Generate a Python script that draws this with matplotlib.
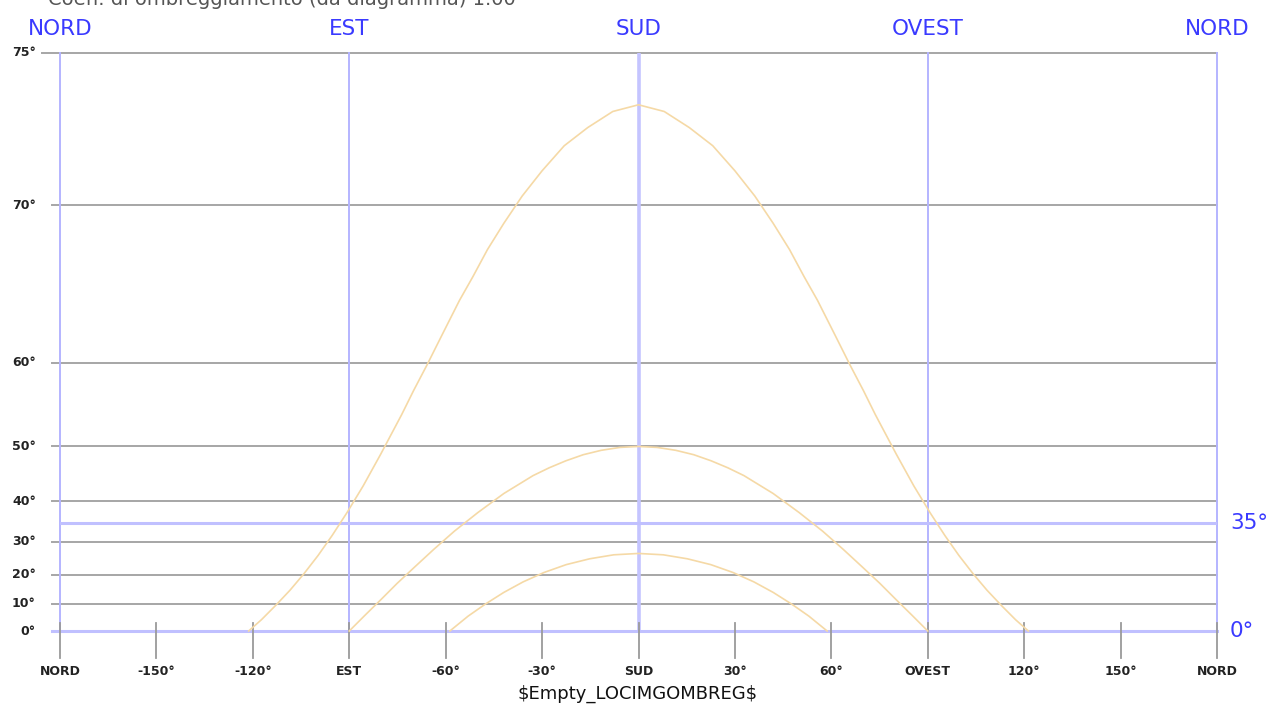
import numpy as np
import matplotlib
matplotlib.use("Agg")
import matplotlib.pyplot as plt

# sun path curves (azimuth from south, altitude in degrees)
summer_az = [-121.3, -117.3, -112.8, -108.4, -104.1, -99.7, -95.3, -90.7, -85.7, -80.2,
             -73.7, -70.0, -65.8, -61.1, -55.7, -51.5, -47.0, -41.9, -36.2, -30.0,
             -23.1, -15.8, -8.0, 0.0, 8.0, 15.8, 23.1, 30.0, 36.2, 41.9,
             47.0, 51.5, 55.7, 61.1, 65.8, 70.0, 73.7, 80.2, 85.7, 90.7,
             95.3, 99.7, 104.1, 108.4, 112.8, 117.3, 121.3]
summer_alt = [0.0, 4.2, 9.5, 14.8, 20.3, 26.0, 31.7, 37.4, 43.1, 48.8,
              54.4, 57.2, 59.8, 62.4, 64.9, 66.4, 67.9, 69.2, 70.4, 71.4,
              72.3, 72.9, 73.4, 73.6, 73.4, 72.9, 72.3, 71.4, 70.4, 69.2,
              67.9, 66.4, 64.9, 62.4, 59.8, 57.2, 54.4, 48.8, 43.1, 37.4,
              31.7, 26.0, 20.3, 14.8, 9.5, 4.2, 0.0]

equinox_az = [-90.0, -85.2, -80.2, -75.1, -69.6, -63.7, -57.3, -50.0, -41.9, -32.8,
              -27.8, -22.6, -17.2, -11.6, -5.8, 0.0, 5.8, 11.6, 17.2, 22.6,
              27.8, 32.8, 41.9, 50.0, 57.3, 63.7, 69.6, 75.1, 80.2, 85.2, 90.0]
equinox_alt = [0.0, 5.7, 11.4, 17.1, 22.5, 27.8, 32.8, 37.4, 41.6, 45.1,
               46.5, 47.7, 48.7, 49.4, 49.85, 50.0, 49.85, 49.4, 48.7, 47.7,
               46.5, 45.1, 41.6, 37.4, 32.8, 27.8, 22.5, 17.1, 11.4, 5.7, 0.0]

winter_az = [-58.7, -53.0, -47.6, -41.9, -35.9, -29.4, -22.5, -15.2, -7.7, 0.0,
             7.7, 15.2, 22.5, 29.4, 35.9, 41.9, 47.6, 53.0, 58.7]
winter_alt = [0.0, 5.5, 9.9, 14.0, 17.6, 20.7, 23.2, 25.0, 26.2, 26.6,
              26.2, 25.0, 23.2, 20.7, 17.6, 14.0, 9.9, 5.5, 0.0]

x_ticks = [-180, -150, -120, -90, -60, -30, 0, 30, 60, 90, 120, 150, 180]
x_labels = ["NORD", "-150°", "-120°", "EST", "-60°", "-30°", "SUD",
            "30°", "60°", "OVEST", "120°", "150°", "NORD"]
cardinal_x = [-180, -90, 0, 90, 180]
cardinal_labels = ["NORD", "EST", "SUD", "OVEST", "NORD"]
y_grid = [10, 20, 30, 40, 50, 60, 70, 75]
y_labels = [0, 10, 20, 30, 40, 50, 60, 70, 75]
limit_alt = 35

BLUE_LINE = "#b4b4ff"
BLUE_TXT = "#3a3aff"
GRAY = "#a6a6a6"
CURVE = "#f5d9a6"

fig = plt.figure(figsize=(12.69, 7.09), dpi=100)
ax = fig.add_axes([60 / 1269, 1 - 660 / 709, 1157 / 1269, 607 / 709])


def fwd(v):
    return np.tan(np.radians(v))


def inv(t):
    return np.degrees(np.arctan(t))


ax.set_yscale("function", functions=(fwd, inv))
ax.set_xlim(-180, 180)
ax.set_ylim(-10.6, 75)
ax.axis("off")

# gray altitude grid
for v in y_grid:
    x0 = -185.6 if v == 75 else -182.5
    ax.plot([x0, 180], [v, v], color=GRAY, lw=1.4, clip_on=False, zorder=1)

# blue vertical lines at cardinal points
for cx in cardinal_x:
    if cx == 0:
        ax.plot([cx, cx], [0, 75], color="#c4c4ff", lw=2.6, zorder=2)
    else:
        ax.plot([cx, cx], [0, 75], color=BLUE_LINE, lw=1.4, zorder=2, clip_on=False)

# blue horizontal lines (horizon and limit)
ax.plot([-182.5, 180], [0, 0], color="#c0c0ff", lw=2.2, clip_on=False, zorder=2)
ax.plot([-180, 180], [limit_alt, limit_alt], color="#c0c0ff", lw=2.2, zorder=2)

# bottom tick marks
for tx in x_ticks:
    ax.plot([tx, tx], [2.9, -9.9], color="#9a9a9a", lw=1.3, zorder=3, clip_on=False)

# sun paths
for az, alt in [(summer_az, summer_alt), (equinox_az, equinox_alt), (winter_az, winter_alt)]:
    ax.plot(az, alt, color=CURVE, lw=1.2, zorder=4)

# labels
for tx, lab in zip(x_ticks, x_labels):
    ax.text(tx, -14.6, lab, ha="center", va="center", fontsize=9,
            fontweight="bold", color="#222222", clip_on=False)
for v in y_labels:
    ax.text(-187.5, v, f"{v}°", ha="right", va="center", fontsize=9,
            fontweight="bold", color="#222222", clip_on=False)
for cx, lab in zip(cardinal_x, cardinal_labels):
    fig.text((638.5 + cx * 3.214) / 1269, 1 - 29 / 709, lab, ha="center", va="center",
             fontsize=15.5, color=BLUE_TXT)
ax.text(184, limit_alt, f"{limit_alt}°", ha="left", va="center", fontsize=15.5,
        color=BLUE_TXT, clip_on=False)
ax.text(184, 0, "0°", ha="left", va="center", fontsize=15.5, color=BLUE_TXT, clip_on=False)

# title is cut off at the top edge, as in the source image
fig.text(48 / 1269, 1 - 5 / 709, "Coeff. di ombreggiamento (da diagramma) 1.00",
         ha="left", va="baseline", fontsize=14, color="#555555")
fig.text(638 / 1269, 1 - 694 / 709, "$Empty_LOCIMGOMBREG$", ha="center", va="center",
         fontsize=13, color="#111111", parse_math=False)

fig.savefig("out.png", dpi=100)
